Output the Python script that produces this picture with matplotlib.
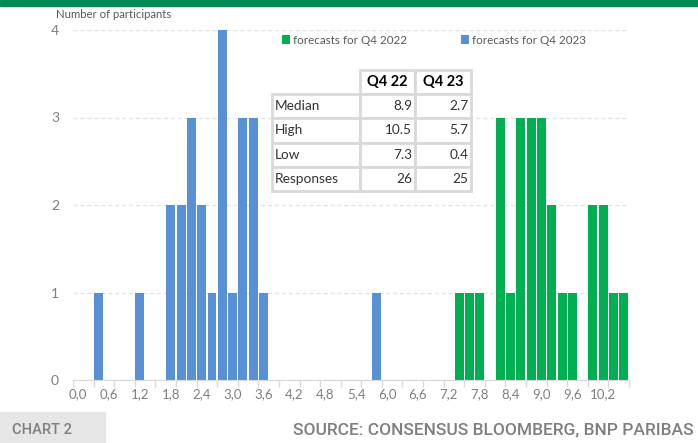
import numpy as np
import matplotlib.pyplot as plt
from matplotlib.patches import Rectangle

plt.rcParams['font.family'] = ['Lato', 'DejaVu Sans']

# forecast bins (0.0 .. 10.6, step 0.2) and number of participants in each
bins = np.round(np.arange(54) * 0.2, 1)
q4_2023 = [0, 0, 1, 0, 0, 0, 1, 0, 0, 2,
           2, 3, 2, 1, 4, 1, 3, 3, 1, 0,
           0, 0, 0, 0, 0, 0, 0, 0, 0, 1,
           0, 0, 0, 0, 0, 0, 0, 0, 0, 0,
           0, 0, 0, 0, 0, 0, 0, 0, 0, 0,
           0, 0, 0, 0]
q4_2022 = [0, 0, 0, 0, 0, 0, 0, 0, 0, 0,
           0, 0, 0, 0, 0, 0, 0, 0, 0, 0,
           0, 0, 0, 0, 0, 0, 0, 0, 0, 0,
           0, 0, 0, 0, 0, 0, 0, 1, 1, 1,
           0, 3, 1, 3, 3, 3, 2, 1, 1, 0,
           2, 2, 1, 1]

table_rows = ["Median", "High", "Low", "Responses"]
table_cols = ["Q4 22", "Q4 23"]
table_vals = [["8.9", "2.7"], ["10.5", "5.7"], ["7.3", "0.4"], ["26", "25"]]

GREEN = "#00b050"
BLUE = "#5890d6"
GREY = "#7f7f7f"
W, H = 698, 443

fig = plt.figure(figsize=(6.98, 4.43), dpi=100)
ax = fig.add_axes([73 / W, 1 - 380 / H, 556 / W, 350 / H])

x = np.arange(len(bins))
ax.bar(x, q4_2022, width=0.87, color=GREEN, label="forecasts for Q4 2022", zorder=2)
ax.bar(x, q4_2023, width=0.87, color=BLUE, label="forecasts for Q4 2023", zorder=2)

ax.set_xlim(-0.5, len(bins) - 0.5)
ax.set_ylim(0, 4)
ax.set_yticks([0, 1, 2, 3, 4])
ax.set_xticks(x[::3])
ax.set_xticklabels([("%.1f" % b).replace(".", ",") for b in bins[::3]])
ax.set_xticks(np.arange(-0.5, len(bins), 2), minor=True)
ax.tick_params(axis="x", which="major", length=0, pad=6, labelsize=9.5, labelcolor=GREY)
ax.tick_params(axis="x", which="minor", length=5, width=1, color="#d9d9d9")
ax.tick_params(axis="y", length=0, pad=10, labelsize=10, labelcolor=GREY)
for s in ["top", "right", "left"]:
    ax.spines[s].set_visible(False)
ax.spines["bottom"].set_color("#d9d9d9")
ax.grid(axis="y", color="#e3e3e3", linestyle=(0, (3, 2)), linewidth=1, zorder=0)
ax.set_axisbelow(True)

leg = ax.legend(loc="center left", bbox_to_anchor=(282 / W, 1 - 40 / H), bbox_transform=fig.transFigure,
                ncol=2, frameon=False, handlelength=0.7, handleheight=0.7, handletextpad=0.25,
                columnspacing=4.6, fontsize=8.4, borderpad=0, borderaxespad=0)
for t in leg.get_texts():
    t.set_color("#595959")

# summary table
tax = fig.add_axes([272 / W, 1 - 191 / H, 199 / W, 121 / H])
tax.axis("off")
cell_text = [[""] + table_cols] + [[r] + v for r, v in zip(table_rows, table_vals)]
tbl = tax.table(cellText=cell_text, bbox=[0, 0, 1, 1], colWidths=[88, 55, 56])
tbl.auto_set_font_size(False)
for (r, c), cell in tbl.get_celld().items():
    cell.set_edgecolor("#d9d9d9")
    cell.set_linewidth(2)
    cell.set_height(1.0 / 5)
    txt = cell.get_text()
    txt.set_fontsize(9.8)
    txt.set_color("#333333")
    if r == 0:
        txt.set_fontweight("bold")
        txt.set_fontsize(10.5)
        txt.set_color("black")
        txt.set_ha("center")
        if c == 0:
            cell.visible_edges = ""
    elif c == 0:
        txt.set_ha("left")
        cell.PAD = 0.03
    else:
        txt.set_ha("right")
        cell.PAD = 0.05

fig.text(56 / W, 1 - 15 / H, "Number of participants", fontsize=8.2, color="#595959", va="center")

# top band and footer
fig.patches.append(Rectangle((0, 1 - 6 / H), 1, 6 / H, transform=fig.transFigure, color="#008a55"))
fig.patches.append(Rectangle((0, 0), 105 / W, 31 / H, transform=fig.transFigure, color="#e6e6e6"))
fig.text(12 / W, 1 - 430 / H, "CHART 2", fontsize=10.5, color=GREY, va="center", fontweight="medium",
         family=["Roboto", "DejaVu Sans"])
fig.text(694 / W, 1 - 430 / H, "SOURCE: CONSENSUS BLOOMBERG, BNP PARIBAS", fontsize=12.5, color=GREY,
         va="center", ha="right", fontweight="medium", family=["Roboto", "DejaVu Sans"])

fig.savefig("out.png", dpi=100)
